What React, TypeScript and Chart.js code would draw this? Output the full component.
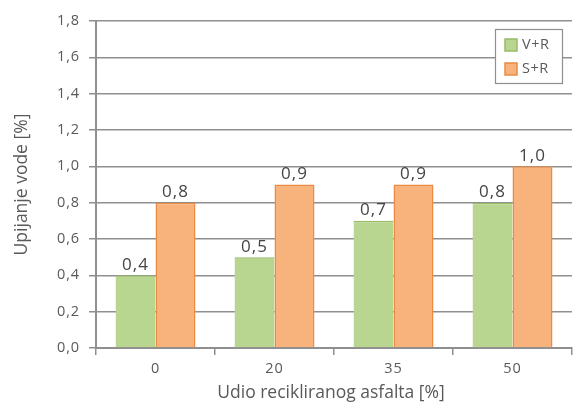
import React, { useEffect, useRef } from "react";
import { Chart, registerables } from "chart.js";

Chart.register(...registerables);

const categories = ["0", "20", "35", "50"];
const seriesVR = [0.4, 0.5, 0.7, 0.8];
const seriesSR = [0.8, 0.9, 0.9, 1.0];
const seriesNames = ["V+R", "S+R"];
const yTicks = [0, 0.2, 0.4, 0.6, 0.8, 1.0, 1.2, 1.4, 1.6, 1.8];
const xTitle = "Udio recikliranog asfalta [%]";
const yTitle = "Upijanje vode [%]";

const FONT = "'Open Sans', 'DejaVu Sans', sans-serif";
const TEXT = "#595959";
const GRID = "#8f8f8f";
const fills = ["#b8d68f", "#f8b27c"];
const borders = ["#98bb68", "#ea8a45"];

const fmt = (v: number) => v.toFixed(1).replace(".", ",");

const spacingPlugin = {
  id: "letterSpacing",
  beforeDraw(chart: any) {
    chart.ctx.letterSpacing = "0.9px";
  },
};

const titlesPlugin = {
  id: "axisTitles",
  afterDraw(chart: any) {
    const ctx = chart.ctx;
    const a = chart.chartArea;
    ctx.save();
    ctx.letterSpacing = "0px";
    ctx.font = `17.5px ${FONT}`;
    ctx.fillStyle = TEXT;
    ctx.textAlign = "center";
    ctx.textBaseline = "middle";
    ctx.fillText(xTitle, (a.left + a.right) / 2 - 3, 393);
    ctx.translate(22, (a.top + a.bottom) / 2);
    ctx.rotate(-Math.PI / 2);
    ctx.fillText(yTitle, 0, 0);
    ctx.restore();
  },
};

const labelsPlugin = {
  id: "valueLabels",
  afterDatasetsDraw(chart: any) {
    const ctx = chart.ctx;
    ctx.save();
    ctx.letterSpacing = "1px";
    ctx.font = `17px ${FONT}`;
    ctx.fillStyle = "#444444";
    ctx.textAlign = "center";
    ctx.textBaseline = "bottom";
    chart.data.datasets.forEach((ds: any, i: number) => {
      const meta = chart.getDatasetMeta(i);
      meta.data.forEach((bar: any, j: number) => {
        ctx.fillText(fmt(ds.data[j]), bar.x, bar.y - 2);
      });
    });
    ctx.restore();
  },
};

const legendPlugin = {
  id: "insideLegend",
  afterDraw(chart: any) {
    const ctx = chart.ctx;
    const x = 495;
    const y = 29;
    const w = 67;
    const h = 54;
    ctx.save();
    ctx.letterSpacing = "0.5px";
    ctx.fillStyle = "#ffffff";
    ctx.fillRect(x, y, w, h);
    ctx.strokeStyle = "#8f8f8f";
    ctx.lineWidth = 1.2;
    ctx.strokeRect(x + 0.5, y + 0.5, w, h);
    ctx.font = `14.5px ${FONT}`;
    ctx.textBaseline = "middle";
    ctx.textAlign = "left";
    seriesNames.forEach((name, i) => {
      const cy = y + 16 + i * 24;
      ctx.fillStyle = fills[i];
      ctx.fillRect(x + 10, cy - 6, 12, 12);
      ctx.strokeStyle = borders[i];
      ctx.lineWidth = 1.5;
      ctx.strokeRect(x + 10, cy - 6, 12, 12);
      ctx.fillStyle = TEXT;
      ctx.fillText(name, x + 27, cy);
    });
    ctx.restore();
  },
};

export default function App() {
  const ref = useRef<HTMLCanvasElement>(null);

  useEffect(() => {
    document.body.style.margin = "0";
    const chart = new Chart(ref.current!, {
      type: "bar",
      data: {
        labels: categories,
        datasets: [
          {
            label: seriesNames[0],
            data: seriesVR,
            backgroundColor: fills[0],
            borderColor: borders[0],
            borderWidth: { left: 0, right: 0, top: 1.5, bottom: 0 },
            categoryPercentage: 0.672,
            barPercentage: 1,
          },
          {
            label: seriesNames[1],
            data: seriesSR,
            backgroundColor: fills[1],
            borderColor: borders[1],
            borderWidth: { left: 1.5, right: 1.5, top: 1.5, bottom: 0 },
            categoryPercentage: 0.672,
            barPercentage: 1,
          },
        ],
      },
      options: {
        animation: false,
        responsive: false,
        maintainAspectRatio: false,
        layout: { padding: { left: 0, right: 1, top: 21, bottom: 0 } },
        plugins: {
          legend: { display: false },
          tooltip: { enabled: false },
        },
        scales: {
          x: {
            grid: {
              offset: true,
              drawOnChartArea: false,
              drawTicks: true,
              tickLength: 7,
              color: GRID,
              lineWidth: 1.5,
            },
            border: { color: GRID, width: 2 },
            ticks: {
              color: TEXT,
              font: { family: FONT, size: 14.5 },
              padding: 5,
            },
            title: { display: false },
            afterFit(scale: any) {
              scale.height = 56;
            },
          },
          y: {
            min: 0,
            max: 1.8,
            afterBuildTicks(scale: any) {
              scale.ticks = yTicks.map((v) => ({ value: v }));
            },
            grid: {
              color: GRID,
              lineWidth: 1.5,
              tickLength: 7,
            },
            border: { color: GRID, width: 2 },
            ticks: {
              color: TEXT,
              font: { family: FONT, size: 14.5 },
              padding: 9,
              callback: (v: any) => fmt(Number(v)),
            },
            title: { display: false },
            afterFit(scale: any) {
              scale.width = 96;
            },
          },
        },
      },
      plugins: [spacingPlugin, labelsPlugin, legendPlugin, titlesPlugin],
    });
    return () => chart.destroy();
  }, []);

  return (
    <div style={{ width: 573, height: 404, background: "#fff" }}>
      <canvas ref={ref} width={573} height={404} style={{ width: 573, height: 404 }} />
    </div>
  );
}
